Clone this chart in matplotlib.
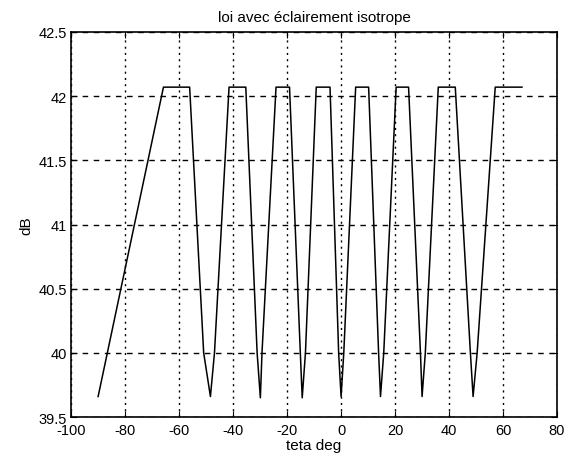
import numpy as np
import matplotlib.pyplot as plt

plt.rcParams['font.family'] = ['Liberation Sans', 'DejaVu Sans']
plt.rcParams['axes.unicode_minus'] = False

# vertices of the curve (teta in deg, level in dB)
teta = [-90.0, -65.8, -56.1, -50.9, -48.4, -46.9, -41.5,
        -35.3, -31.1, -29.9, -29.3, -24.1,
        -19.1, -15.1, -14.4, -13.2, -9.2,
        -4.1, -0.9, 0.0, 1.0, 5.4,
        10.2, 13.9, 14.6, 15.8, 20.4,
        25.0, 29.4, 30.0, 31.2, 36.0,
        42.3, 47.9, 48.9, 50.4, 57.1, 67.0]
db = [39.66, 42.07, 42.07, 40.0, 39.66, 40.0, 42.07,
      42.07, 40.0, 39.65, 40.0, 42.07,
      42.07, 40.0, 39.65, 40.0, 42.07,
      42.07, 40.0, 39.66, 40.0, 42.07,
      42.07, 40.0, 39.66, 40.0, 42.07,
      42.07, 40.0, 39.66, 40.0, 42.07,
      42.07, 40.0, 39.66, 40.0, 42.07, 42.07]

xticks = np.arange(-100, 81, 20)
yticks = [39.5, 40, 40.5, 41, 41.5, 42, 42.5]
yticklabels = ['39.5', '40', '40.5', '41', '41.5', '42', '42.5']

fig = plt.figure(figsize=(5.69, 4.64), dpi=100)
ax = fig.add_axes([0.125, 0.099, 0.854, 0.83])
ax.plot(teta, db, color='black', lw=1.1)

ax.set_xlim(-100, 80)
ax.set_ylim(39.5, 42.5)
ax.set_xticks(xticks)
ax.set_yticks(yticks)
ax.set_yticklabels(yticklabels)
ax.tick_params(direction='in', length=4, labelsize=10.5, top=True, right=True)
ax.tick_params(axis='x', pad=4)
ax.tick_params(axis='y', pad=3)
ax.xaxis.grid(True, color='black', linestyle=(0, (1.5, 3)), lw=1)
ax.yaxis.grid(True, color='black', linestyle=(0, (4, 4)), lw=1)
for s in ax.spines.values():
    s.set_linewidth(1.2)

ax.set_title('loi avec éclairement isotrope', fontsize=11, pad=8)
ax.set_xlabel('teta deg', fontsize=11, labelpad=1)
ax.set_ylabel('dB', fontsize=11, labelpad=4)

fig.savefig('out.png', dpi=100)
